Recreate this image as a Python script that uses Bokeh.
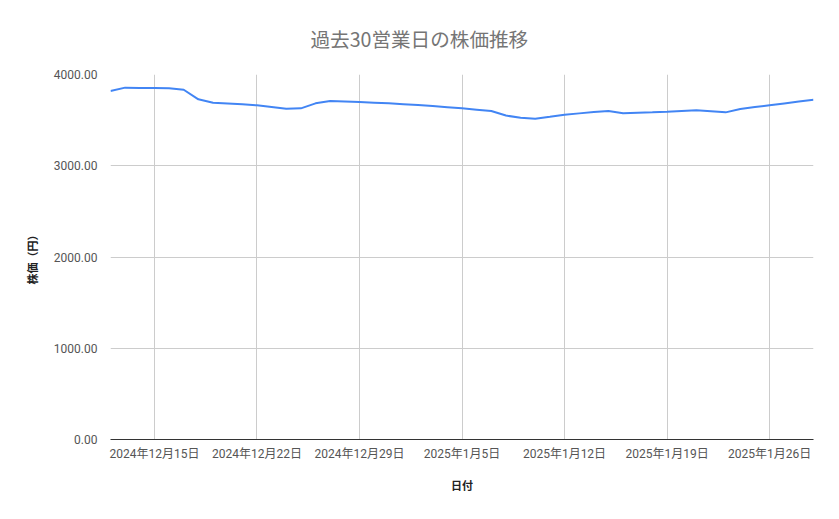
import pandas as pd
from bokeh.plotting import figure
from bokeh.models import Range1d, FixedTicker, PrintfTickFormatter
from bokeh.embed import file_html
from bokeh.resources import INLINE

# ---- data ----
dates = pd.date_range("2024-12-12", "2025-01-29", freq="D")
prices = [3819, 3856, 3853, 3851, 3849, 3833, 3728, 3691, 3682, 3673,
          3662, 3645, 3625, 3629, 3684, 3709, 3704, 3698, 3691, 3684,
          3675, 3665, 3655, 3642, 3629, 3615, 3600, 3550, 3526, 3516,
          3537, 3560, 3574, 3588, 3600, 3575, 3580, 3585, 3592, 3600,
          3607, 3598, 3585, 3622, 3643, 3663, 3683, 3703, 3722]
tick_dates = ["2024-12-15", "2024-12-22", "2024-12-29", "2025-01-05",
              "2025-01-12", "2025-01-19", "2025-01-26"]
tick_labels = ["2024年12月15日", "2024年12月22日", "2024年12月29日", "2025年1月5日",
               "2025年1月12日", "2025年1月19日", "2025年1月26日"]
y_ticks = [0, 1000, 2000, 3000, 4000]
title_text = "過去30営業日の株価推移"
x_label = "日付"
y_label = "株価（円）"

FONT = "Roboto, 'Noto Sans CJK JP', sans-serif"

p = figure(width=823, height=503, x_axis_type="datetime",
           output_backend="svg", toolbar_location=None,
           x_range=Range1d(dates[0], dates[-1]), y_range=Range1d(0, 4000),
           min_border_left=110, min_border_right=10,
           min_border_top=74, min_border_bottom=64)
p.outline_line_color = None

p.title.text = title_text
p.title.text_font = "'Noto Sans CJK JP', sans-serif"
p.title.text_font_size = "19.6px"
p.title.text_font_style = "normal"
p.title.text_color = "#757575"
p.title.align = "left"
p.title.offset = 200
p.title.standoff = 43

p.line(dates, prices, line_color="#4285F4", line_width=2)

tick_ms = [pd.Timestamp(d).value // 10**6 for d in tick_dates]
p.xaxis.ticker = FixedTicker(ticks=tick_ms)
p.xaxis.major_label_overrides = {t: l for t, l in zip(tick_ms, tick_labels)}
p.yaxis.ticker = FixedTicker(ticks=y_ticks)
p.yaxis.formatter = PrintfTickFormatter(format="%.2f")

for ax in (p.xaxis, p.yaxis):
    ax.major_tick_line_color = None
    ax.minor_tick_line_color = None
    ax.major_label_text_font = FONT
    ax.major_label_text_font_size = "12px"
    ax.major_label_text_color = "#555555"
    ax.axis_label_text_font = "'Noto Sans CJK JP', sans-serif"
    ax.axis_label_text_font_size = "11px"
    ax.axis_label_text_font_style = "bold"
    ax.axis_label_text_color = "#222222"

p.xaxis.axis_label = x_label
p.yaxis.axis_label = y_label
p.xaxis.axis_line_color = "#333333"
p.yaxis.axis_line_color = None
p.xaxis.major_label_standoff = 1
p.yaxis.major_label_standoff = 7
p.xaxis.axis_label_standoff = 13
p.yaxis.axis_label_standoff = 11

p.xgrid.grid_line_color = "#cccccc"
p.ygrid.grid_line_color = "#cccccc"

open("out.html", "w").write(file_html(p, INLINE))
